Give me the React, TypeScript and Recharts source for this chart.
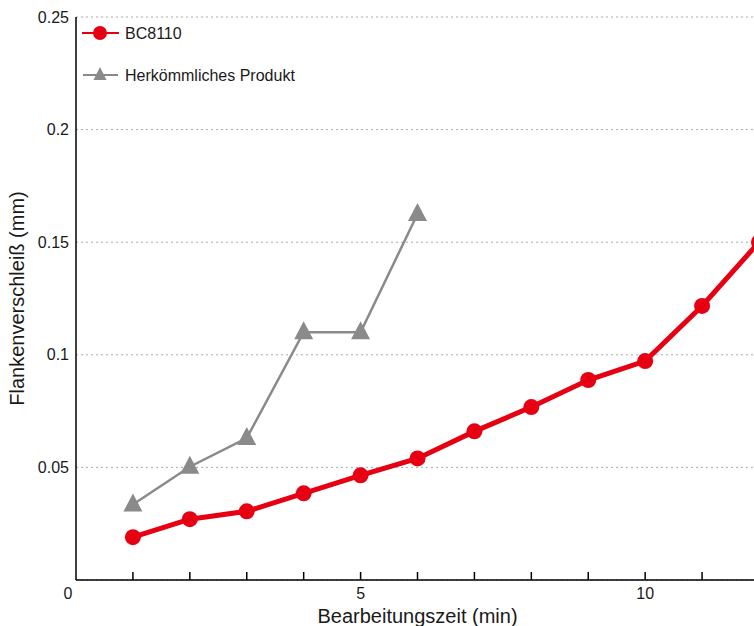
import React from 'react';
import { LineChart, Line, XAxis, YAxis, CartesianGrid } from 'recharts';

// Bearbeitungszeit (min)
const minutes = [1, 2, 3, 4, 5, 6, 7, 8, 9, 10, 11, 12];
// Flankenverschleiß (mm)
const bc8110 = [0.019, 0.027, 0.0305, 0.0385, 0.0465, 0.054, 0.066, 0.0768, 0.0888, 0.0972, 0.1217, 0.15];
const conventional = [0.0335, 0.0503, 0.063, 0.11, 0.11, 0.1625];

const xTicks = [0, 1, 2, 3, 4, 5, 6, 7, 8, 9, 10, 11, 12];
const xLabels = [0, 5, 10];
const yTicks = [0.05, 0.1, 0.15, 0.2, 0.25];

const RED = '#e60012';
const GREY = '#8a8a8a';
const FONT = '"Liberation Sans", Arial, sans-serif';

const data = minutes.map((m, i) => ({
    min: m,
    bc: bc8110[i],
    conv: i < conventional.length ? conventional[i] : null,
}));

const Triangle = (props: any) => {
    const { cx, cy } = props;
    if (cx == null || cy == null) return null;
    return <polygon points={`${cx},${cy - 11} ${cx - 9.5},${cy + 7} ${cx + 9.5},${cy + 7}`} fill={GREY} />;
};

// tick marks point into the plot, labels only on 0/5/10
const XTick = (props: any) => {
    const { x, y, payload } = props;
    const v = payload.value;
    return (
        <g>
            {v !== 0 && <line x1={x} x2={x} y1={y} y2={y - 8} stroke="#000" strokeWidth={1.5} />}
            {xLabels.includes(v) && (
                <text x={v === 0 ? x - 8 : x} y={y + 19} textAnchor="middle" fontSize={16} fill="#1a1a1a" fontFamily={FONT}>
                    {v}
                </text>
            )}
        </g>
    );
};

// legend drawn on top so it doesn't eat plot space
const LegendBox = () => (
    <svg width={260} height={80} style={{ position: 'absolute', left: 76, top: 17 }}>
        <line x1={6} x2={43} y1={16} y2={16} stroke={RED} strokeWidth={2} />
        <circle cx={24} cy={16} r={7} fill={RED} />
        <text x={49} y={22} fontSize={16} fill="#1a1a1a" fontFamily={FONT}>BC8110</text>
        <line x1={7} x2={42} y1={58} y2={58} stroke={GREY} strokeWidth={2} />
        <polygon points="24,50 17.5,63 30.5,63" fill={GREY} />
        <text x={49} y={64} fontSize={16} fill="#1a1a1a" fontFamily={FONT}>Herkömmliches Produkt</text>
    </svg>
);

export default function App() {
    return (
        <div style={{ position: 'absolute', left: 0, top: 0, width: 754, height: 626, overflow: 'hidden', background: '#fff' }}>
            <LineChart width={770} height={626} data={data} margin={{ top: 17, right: 11, bottom: 0, left: 0 }}>
                <CartesianGrid horizontal vertical={false} stroke="#aaa" strokeDasharray="2 3" />
                <XAxis
                    dataKey="min"
                    type="number"
                    domain={[0, 12]}
                    ticks={xTicks}
                    interval={0}
                    height={46}
                    tickSize={0}
                    tickMargin={0}
                    tickLine={false}
                    axisLine={{ stroke: '#000', strokeWidth: 1.5 }}
                    tick={<XTick />}
                    label={{
                        content: (p: any) => {
                            const vb = p.viewBox;
                            return (
                                <text x={vb.x + vb.width / 2} y={623} textAnchor="middle" fontSize={20} fill="#1a1a1a" fontFamily={FONT}>
                                    Bearbeitungszeit (min)
                                </text>
                            );
                        },
                    }}
                />
                <YAxis
                    type="number"
                    domain={[0, 0.25]}
                    ticks={yTicks}
                    width={76}
                    tickSize={0}
                    tickMargin={7}
                    tickLine={false}
                    axisLine={{ stroke: '#000', strokeWidth: 1.5 }}
                    tick={{ fontSize: 16, fill: '#1a1a1a', fontFamily: FONT }}
                    label={{
                        content: (p: any) => {
                            const vb = p.viewBox;
                            const cy = vb.y + vb.height / 2;
                            return (
                                <text x={24} y={cy} transform={`rotate(-90 24 ${cy})`} textAnchor="middle" fontSize={20} fill="#1a1a1a" fontFamily={FONT}>
                                    Flankenverschleiß (mm)
                                </text>
                            );
                        },
                    }}
                />
                <Line
                    dataKey="conv"
                    stroke={GREY}
                    strokeWidth={2.5}
                    dot={<Triangle />}
                    activeDot={false}
                    connectNulls={false}
                    isAnimationActive={false}
                />
                <Line
                    dataKey="bc"
                    stroke={RED}
                    strokeWidth={5}
                    dot={{ r: 8, fill: RED, stroke: 'none' }}
                    activeDot={false}
                    isAnimationActive={false}
                />
            </LineChart>
            <LegendBox />
        </div>
    );
}
